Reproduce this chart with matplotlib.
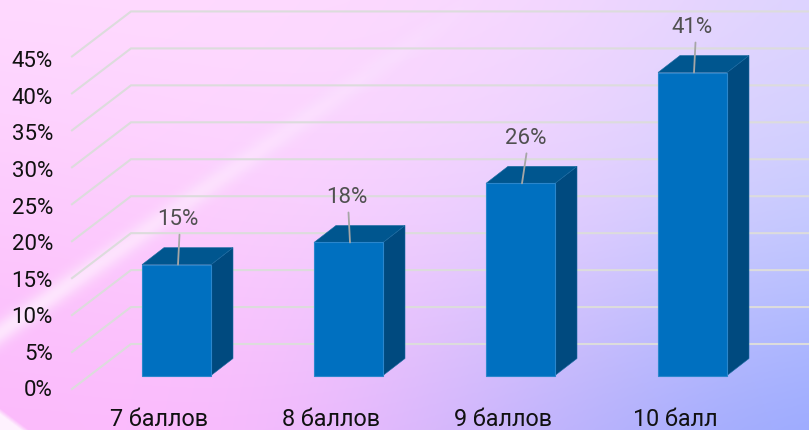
import numpy as np
import matplotlib
matplotlib.use('Agg')
import matplotlib.pyplot as plt
from matplotlib.colors import to_rgb
from matplotlib.patches import Polygon

categories = ['7 баллов', '8 баллов', '9 баллов', '10 балл']
values = [15, 18, 26, 41]
value_labels = ['15%', '18%', '26%', '41%']
y_ticks = [0, 5, 10, 15, 20, 25, 30, 35, 40, 45]
y_tick_labels = ['0%', '5%', '10%', '15%', '20%', '25%', '30%', '35%', '40%', '45%']

W, H = 809, 430
plt.rcParams['font.family'] = ['Roboto', 'DejaVu Sans']

fig = plt.figure(figsize=(W / 100, H / 100), dpi=100)

# background: coarse colour grid, smoothed, then the pale swoosh on top
bg = fig.add_axes([0, 0, 1, 1])
bg.axis('off')
bg_colors = [['#ffdcff', '#ffdcff', '#fad8ff', '#dcd4ff'],
             ['#fcc8fd', '#fdd2fe', '#ecd2ff', '#c5cfff'],
             ['#fbb8fb', '#fdb8fd', '#b8b0fa', '#8fa3ff']]
grid = np.array([[to_rgb(c) for c in row] for row in bg_colors])
bg.imshow(grid, extent=(-1 / 6, 7 / 6, 1.25, -0.25), aspect='auto', interpolation='bicubic')

yy, xx = np.mgrid[0:H, 0:W]
d = yy - (332 - 0.70 * xx)
band = 0.6 * np.exp(-(d / 13.0) ** 2) * np.clip(1.05 - xx / 480, 0, 1)
corner = np.clip((yy - 408 - xx * 0.75) / 6.0, 0, 1) * 0.8
overlay = np.ones((H, W, 4))
overlay[..., 3] = np.maximum(band, corner)
bg.imshow(overlay, extent=(0, 1, 1, 0), aspect='auto', interpolation='bilinear')
bg.set_xlim(0, 1)
bg.set_ylim(1, 0)

# front plane of the bars: one category = 172 px, 1 percent = 7.39 px
ax = fig.add_axes([0, 0, 1, 1])
ax.patch.set_alpha(0)
ax.axis('off')
px_x, px_y = 172.0, 7.39
x0, y0 = 176.5, 375.5
ax.set_xlim(-x0 / px_x, (W - x0) / px_x)
ax.set_ylim(-(H - y0) / px_y, y0 / px_y)

x = np.arange(len(categories))
bar_w = 69 / px_x
depth_x, depth_y = 22 / px_x, 17 / px_y

# gridlines on side wall and back wall
front_x, back_x = (72 - x0) / px_x, (131 - x0) / px_x
front_dy, back_dy = -13.5 / px_y, 31.5 / px_y
for t in y_ticks:
    ax.plot([front_x, back_x, ax.get_xlim()[1]], [t + front_dy, t + back_dy, t + back_dy],
            color='#dcdcdc', lw=1.5, zorder=1, solid_joinstyle='miter')

for xi, v in zip(x, values):
    l, r = xi - bar_w / 2, xi + bar_w / 2
    ax.add_patch(Polygon([(r, 0), (r + depth_x, depth_y), (r + depth_x, v + depth_y), (r, v)],
                         facecolor='#004a7f', edgecolor='#1a6aa0', lw=0.4, zorder=2))
    ax.add_patch(Polygon([(l, v), (l + depth_x, v + depth_y), (r + depth_x, v + depth_y), (r, v)],
                         facecolor='#00568f', edgecolor='#1a6aa0', lw=0.4, zorder=2))
ax.bar(x, values, width=bar_w, color='#0070c0', edgecolor='#2a86cc', lw=0.8, zorder=3)

# leader lines with the value labels
lean = [0, -3, 3, 0]
label_dx = [1.5, -2, 5, 0]
for xi, v, lab, dx, ldx in zip(x, values, value_labels, lean, label_dx):
    ax.annotate('', xy=(xi + 1.5 / px_x, v), xytext=(1.5 + dx, 30), textcoords='offset pixels',
                arrowprops=dict(arrowstyle='-', color='#a6a6a6', lw=1.3, shrinkA=0, shrinkB=0), zorder=4)
    ax.annotate(lab, xy=(xi, v), xytext=(ldx, 45), textcoords='offset pixels', ha='center', va='center',
                fontsize=16, color='#505050', zorder=5)

for t, lab in zip(y_ticks, y_tick_labels):
    ax.annotate(lab, xy=(front_x, t * 0.99 + front_dy), xytext=(-19, -2), textcoords='offset pixels',
                ha='right', va='center', fontsize=16, color='#111111')

for xi, lab in zip(x, categories):
    ax.annotate(lab, xy=(xi, 0), xytext=(-17.5, -44), textcoords='offset pixels',
                ha='center', va='center', fontsize=16.8, color='#111111')

fig.savefig('out.png', dpi=100)
